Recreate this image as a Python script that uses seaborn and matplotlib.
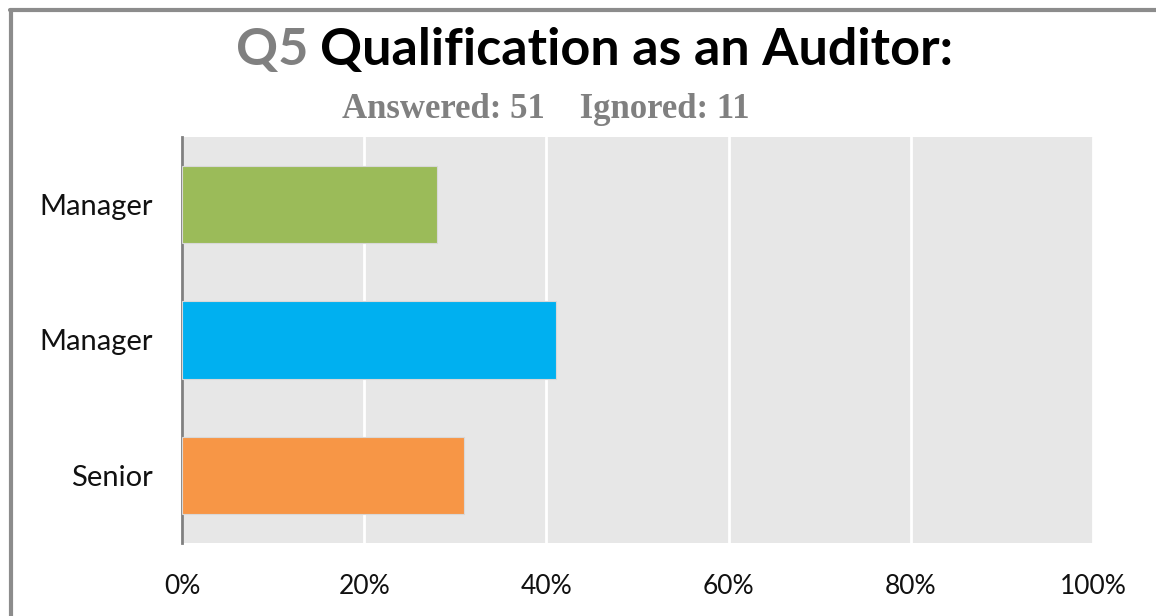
import matplotlib
matplotlib.use('Agg')
import matplotlib.pyplot as plt
import seaborn as sns
import pandas as pd
from matplotlib.lines import Line2D

# data
categories = ['Manager (a)', 'Manager (b)', 'Senior']
y_tick_labels = ['Manager', 'Manager', 'Senior']
shares = [28, 41, 31]
bar_colors = ['#9BBB59', '#00B0F0', '#F79646']
x_ticks = [0, 20, 40, 60, 80, 100]
x_tick_labels = ['0%', '20%', '40%', '60%', '80%', '100%']

df = pd.DataFrame({'answer': categories, 'share': shares})

sns.set_theme(style='white')
plt.rcParams['font.family'] = ['Lato', 'DejaVu Sans']

W, H = 1156, 616
fig = plt.figure(figsize=(W / 100, H / 100), dpi=100)
ax = fig.add_axes([182 / W, 1 - 543 / H, (1093 - 182) / W, (543 - 137) / H])

sns.barplot(data=df, x='share', y='answer', hue='answer', palette=bar_colors,
            saturation=1, width=0.57, legend=False, ax=ax,
            edgecolor='#d8d8d8', linewidth=0.8, zorder=3)

ax.set_facecolor('#E7E7E7')
ax.set_xlim(0, 100)
ax.set_xticks(x_ticks)
ax.set_xticklabels(x_tick_labels, fontsize=19, color='#111111')
ax.set_yticks(range(len(y_tick_labels)))
ax.set_yticklabels(y_tick_labels, fontsize=21, color='#111111')
ax.tick_params(axis='x', length=0, pad=22)
ax.tick_params(axis='y', length=0, pad=21)
ax.grid(axis='x', color='white', linewidth=2, zorder=1)
ax.set_axisbelow(True)
ax.set_xlabel('')
ax.set_ylabel('')
for side in ['top', 'right', 'bottom']:
    ax.spines[side].set_visible(False)
ax.spines['left'].set_color('#808080')
ax.spines['left'].set_linewidth(2)

# outer frame lines
fig.add_artist(Line2D([10 / W, 1], [1 - 10 / H, 1 - 10 / H], color='#8c8c8c', lw=3))
fig.add_artist(Line2D([11 / W, 11 / W], [0, 1 - 10 / H], color='#8c8c8c', lw=3))

# title, two colours
q5 = fig.text(236 / W, 1 - 51 / H, 'Q5', fontsize=37.5, fontweight='bold',
              color='#808080', va='center', ha='left')
fig.canvas.draw()
bb = q5.get_window_extent()
fig.text((bb.x1 + 12) / W, 1 - 51 / H, 'Qualification as an Auditor:', fontsize=37.5,
         fontweight='bold', color='black', va='center', ha='left')
fig.text(546 / W, 1 - 109 / H, 'Answered: 51    Ignored: 11', fontsize=25,
         fontweight='bold', color='#808080', va='center', ha='center',
         family=['Liberation Serif', 'DejaVu Serif'])

fig.savefig('out.png', dpi=100, facecolor='white')
